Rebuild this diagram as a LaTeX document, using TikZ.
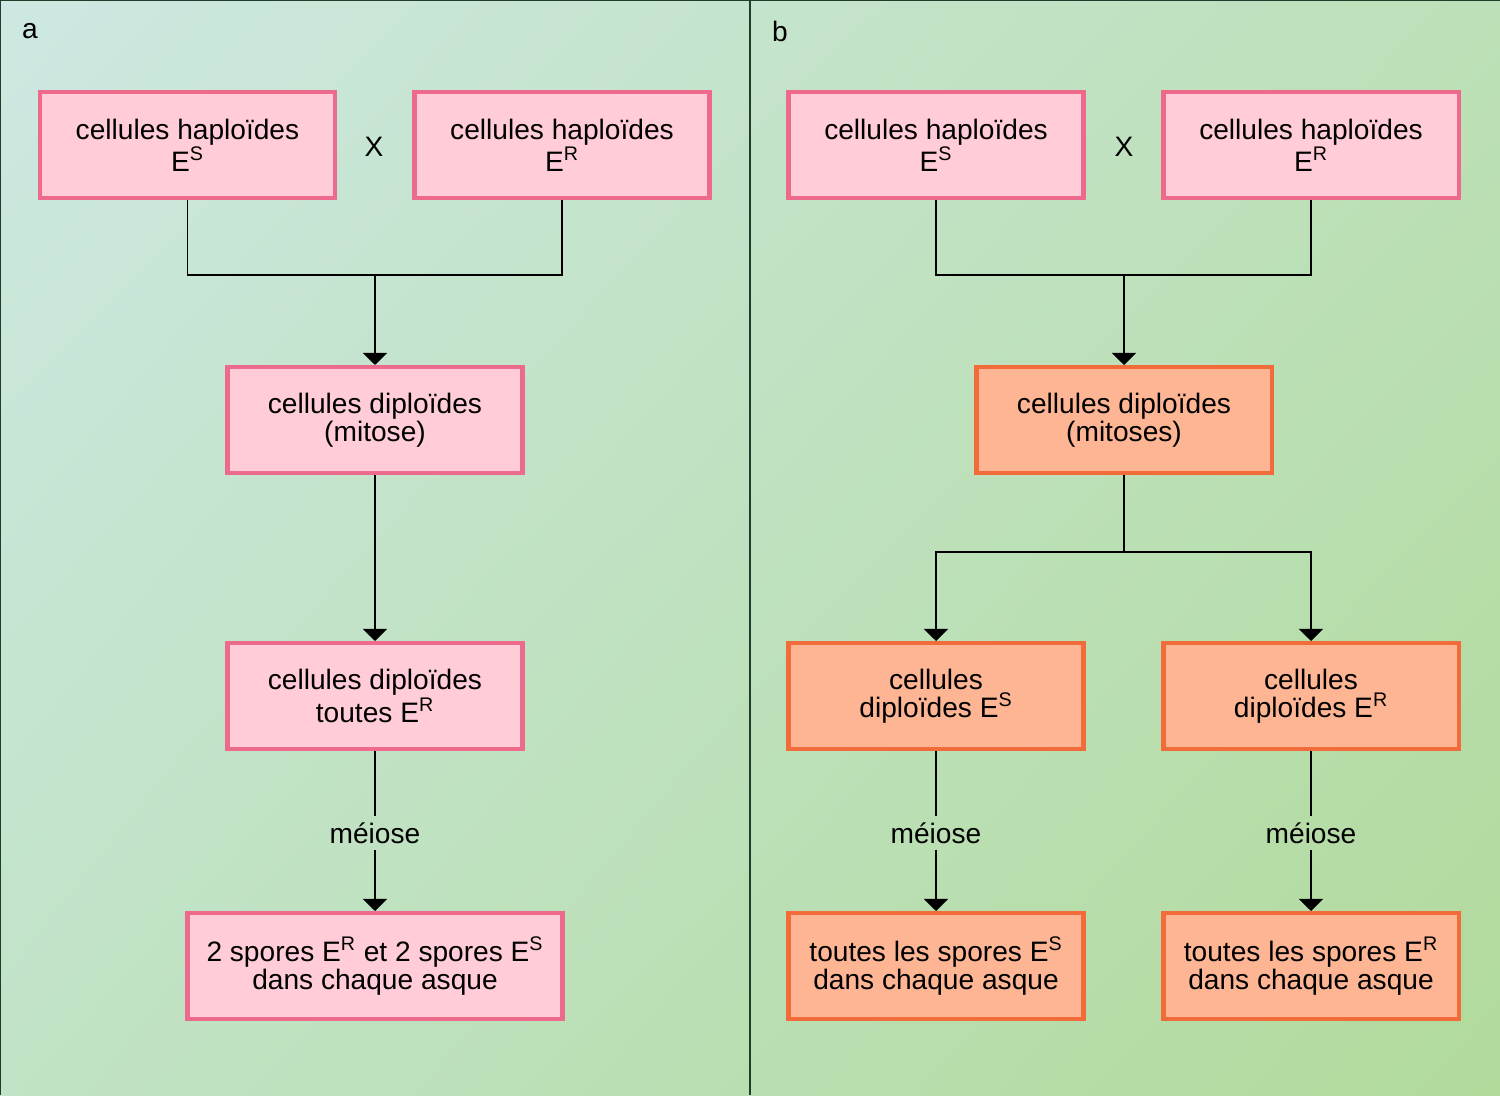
\documentclass[tikz,border=0pt]{standalone}
\usepackage{fontspec}
\setmainfont{Liberation Sans}
\usetikzlibrary{arrows.meta,calc,shadings}
\definecolor{bgul}{HTML}{CDE8E2}
\definecolor{bgur}{HTML}{BDE0B8}
\definecolor{bgll}{HTML}{C1E3C6}
\definecolor{bglr}{HTML}{B1DA9B}
\definecolor{pinkfill}{HTML}{FFCCD8}
\definecolor{pinkline}{HTML}{EE6A8C}
\definecolor{orfill}{HTML}{FDB594}
\definecolor{orline}{HTML}{F26B3A}
\definecolor{frameline}{HTML}{1F3D2A}
\tikzset{
  pinkbox/.style={draw=pinkline, fill=pinkfill, line width=2.3pt, minimum width=5.9cm, minimum height=2.12cm, align=center},
  orbox/.style={draw=orline, fill=orfill, line width=2.3pt, minimum width=5.9cm, minimum height=2.12cm, align=center},
  txt/.style={font=\fontsize{16}{16}\selectfont},
  link/.style={line width=0.85pt},
  arr/.style={link, -{Triangle[width=0.48cm, length=0.24cm]}}
}
\begin{document}
\begin{tikzpicture}[every node/.style={txt}]
\useasboundingbox (0,0) rectangle (30,-21.9);
\shade[upper left=bgul, upper right=bgur, lower left=bgll, lower right=bglr] (0,0) rectangle (30,-21.9);
\draw[frameline, line width=1.2pt] (0,-21.9) -- (0,0) -- (30,0);
\draw[frameline, line width=1.2pt] (15,0) -- (15,-21.9);
\node (la) at (0.6,-0.62) {a};
\node (lb) at (15.6,-0.62) {b};
% panel a
\node[pinkbox] (A1) at (3.75,-2.9) {cellules haploïdes\\E\textsuperscript{S}};
\node[pinkbox] (A2) at (11.24,-2.9) {cellules haploïdes\\E\textsuperscript{R}};
\node (xa) at (7.48,-2.94) {X};
\node[pinkbox] (A3) at (7.5,-8.4) {cellules diploïdes\\(mitose)};
\node[pinkbox] (A4) at (7.5,-13.92) {cellules diploïdes\\toutes E\textsuperscript{R}};
\node (mA) at (7.5,-16.66) {méiose};
\node[pinkbox, minimum width=7.5cm] (A5) at (7.5,-19.32) {2 spores E\textsuperscript{R} et 2 spores E\textsuperscript{S}\\dans chaque asque};
\coordinate (jA) at (7.5,-5.5);
\draw[link] (A1.south) |- (jA) -| (A2.south);
\draw[arr] (jA) -- (A3.north);
\draw[arr] (A3.south) -- (A4.north);
\draw[link] (A4.south) -- (mA.north);
\draw[arr] (mA.south) -- (A5.north);
% panel b
\node[pinkbox] (B1) at (18.72,-2.9) {cellules haploïdes\\E\textsuperscript{S}};
\node[pinkbox] (B2) at (26.22,-2.9) {cellules haploïdes\\E\textsuperscript{R}};
\node (xb) at (22.48,-2.94) {X};
\node[orbox] (B3) at (22.48,-8.4) {cellules diploïdes\\(mitoses)};
\node[orbox] (B4) at (18.72,-13.92) {cellules\\diploïdes E\textsuperscript{S}};
\node[orbox] (B5) at (26.22,-13.92) {cellules\\diploïdes E\textsuperscript{R}};
\node (mB) at (18.72,-16.66) {méiose};
\node (mC) at (26.22,-16.66) {méiose};
\node[orbox] (B6) at (18.72,-19.32) {toutes les spores E\textsuperscript{S}\\dans chaque asque};
\node[orbox] (B7) at (26.22,-19.32) {toutes les spores E\textsuperscript{R}\\dans chaque asque};
\coordinate (jB) at (22.48,-5.5);
\coordinate (sB) at (22.48,-11.04);
\draw[link] (B1.south) |- (jB) -| (B2.south);
\draw[arr] (jB) -- (B3.north);
\draw[link] (B3.south) -- (sB);
\draw[arr] (sB) -| (B4.north);
\draw[arr] (sB) -| (B5.north);
\draw[link] (B4.south) -- (mB.north);
\draw[arr] (mB.south) -- (B6.north);
\draw[link] (B5.south) -- (mC.north);
\draw[arr] (mC.south) -- (B7.north);
\end{tikzpicture}
\end{document}
